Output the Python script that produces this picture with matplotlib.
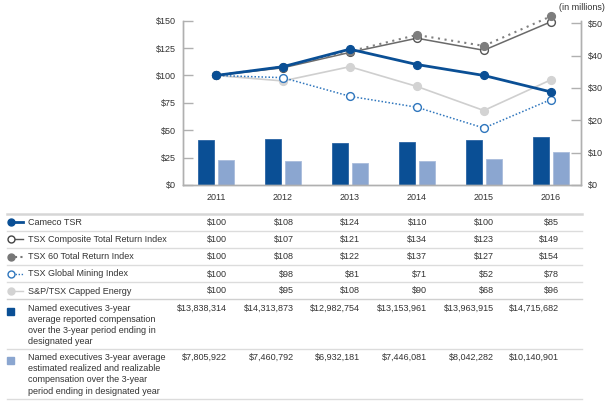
import numpy as np
import matplotlib
matplotlib.use("Agg")
import matplotlib.pyplot as plt
from matplotlib.lines import Line2D
from matplotlib.patches import Rectangle

plt.rcParams['font.family'] = ['Liberation Sans', 'DejaVu Sans']

W, H = 610, 404
years = ['2011', '2012', '2013', '2014', '2015', '2016']
cameco = [100, 108, 124, 110, 100, 85]
tsx_comp = [100, 107, 121, 134, 123, 149]
tsx60 = [100, 108, 122, 137, 127, 154]
mining = [100, 98, 81, 71, 52, 78]
energy = [100, 95, 108, 90, 68, 96]
reported = [13838314, 14313873, 12982754, 13153961, 13963915, 14715682]
realized = [7805922, 7460792, 6932181, 7446081, 8042282, 10140901]

left_ticks = [0, 25, 50, 75, 100, 125, 150]
right_ticks = [0, 10, 20, 30, 40, 50]

txt = '#333333'
dark_blue = '#0a4f95'
light_blue = '#8ba6d0'

def fx(x):
    return x / W

def fy(y):
    return 1 - y / H

fig = plt.figure(figsize=(W / 100, H / 100), dpi=100)
ax = fig.add_axes([fx(183), fy(185), (581 - 183) / W, (185 - 20.7) / H])
ax2 = ax.twinx()

x = np.arange(len(years))

# bars on the right (millions) axis
ax2.bar(x - 0.15, np.array(reported) / 1e6, width=0.24, color=dark_blue,
        edgecolor='#2a64a3', linewidth=0.6, zorder=1)
ax2.bar(x + 0.15, np.array(realized) / 1e6, width=0.24, color=light_blue,
        edgecolor='#a9bcdc', linewidth=0.6, zorder=1)
ax2.set_ylim(0, 50.8)
ax2.set_yticks(right_ticks)
ax2.set_yticklabels(['$%d' % v for v in right_ticks])

# lines on the left axis, drawn above the bars
ax.set_zorder(ax2.get_zorder() + 1)
ax.patch.set_visible(False)
ms = 5.6
ax.plot(x, energy, color='#cfcfcf', lw=1.2, marker='o', ms=ms,
        mfc='#d3d3d3', mec='#d3d3d3', clip_on=False)
ax.plot(x, mining, color='#2f76bd', lw=1.1, ls=(0, (1, 1.3)), marker='o', ms=ms,
        mfc='white', mec='#2f76bd', mew=1.0, clip_on=False)
ax.plot(x, tsx_comp, color='#6a6a6a', lw=1.1, marker='o', ms=ms,
        mfc='white', mec='#555555', mew=1.0, clip_on=False)
ax.plot(x, tsx60, color='#808080', lw=1.5, ls=(0, (1, 2.2)), marker='o', ms=ms,
        mfc='#7d7d7d', mec='#7d7d7d', clip_on=False)
ax.plot(x, cameco, color=dark_blue, lw=2.0, marker='o', ms=ms,
        mfc=dark_blue, mec=dark_blue, clip_on=False)

ax.set_xlim(-0.49, 5.45)
ax.set_ylim(0, 150)
ax.set_yticks(left_ticks)
ax.set_yticklabels(['$%d' % v for v in left_ticks])
ax.set_xticks(x)
ax.set_xticklabels(years)

for a in (ax, ax2):
    a.spines['top'].set_visible(False)
    for s in ('left', 'right', 'bottom'):
        a.spines[s].set_color('#b0b0b0')
        a.spines[s].set_linewidth(1.0)
ax.tick_params(axis='y', direction='in', length=7, width=1, color='#b0b0b0',
               labelsize=6.5, labelcolor=txt, pad=5)
ax2.tick_params(axis='y', direction='in', length=7, width=1, color='#b0b0b0',
                labelsize=6.5, labelcolor=txt, pad=5)
ax.tick_params(axis='x', length=0, labelsize=6.5, labelcolor=txt, pad=6)

fig.text(fx(605), fy(7), '(in millions)', ha='right', va='center',
         fontsize=6.5, color=txt)

# table below the chart
col_right = [227, 294, 360, 427, 494, 559]
rows = [
    ('Cameco TSR', ['$%d' % v for v in cameco], 222),
    ('TSX Composite Total Return Index', ['$%d' % v for v in tsx_comp], 239.3),
    ('TSX 60 Total Return Index', ['$%d' % v for v in tsx60], 256.7),
    ('TSX Global Mining Index', ['$%d' % v for v in mining], 274),
    ('S&P/TSX Capped Energy', ['$%d' % v for v in energy], 291),
    ('Named executives 3-year\naverage reported compensation\nover the 3-year period ending in\ndesignated year',
     ['${:,}'.format(v) for v in reported], 308.3),
    ('Named executives 3-year average\nestimated realized and realizable\ncompensation over the 3-year\nperiod ending in designated year',
     ['${:,}'.format(v) for v in realized], 357.7),
]
for label, vals, y in rows:
    if '\n' in label:
        fig.text(fx(28), fy(y - 4.5), label, ha='left', va='top', fontsize=6.5,
                 color=txt, linespacing=1.3)
    else:
        fig.text(fx(28), fy(y), label, ha='left', va='center', fontsize=6.5, color=txt)
    for xr, v in zip(col_right, vals):
        fig.text(fx(xr), fy(y), v, ha='right', va='center', fontsize=6.5, color=txt)

for y, lw, c in [(214, 1.8, '#d6d6d6'), (230.7, 1, '#dcdcdc'), (247.7, 1, '#dcdcdc'),
                 (265, 1, '#dcdcdc'), (281.7, 1, '#dcdcdc'), (299.3, 1, '#d0d0d0'),
                 (349.3, 1, '#dcdcdc'), (399.3, 1, '#dcdcdc')]:
    fig.add_artist(Line2D([fx(7), fx(582)], [fy(y), fy(y)], color=c, lw=lw))

# legend icons
def icon(y, color, ls, lw, mfc, mec, x0=12):
    fig.add_artist(Line2D([fx(x0), fx(23)], [fy(y), fy(y)], color=color,
                          ls=ls, lw=lw))
    fig.add_artist(Line2D([fx(10.5)], [fy(y)], marker='o', ms=5, mfc=mfc, mec=mec,
                          mew=1.0, ls='none'))

icon(222, dark_blue, '-', 2.0, dark_blue, dark_blue)
icon(239.3, '#555555', '-', 1.0, 'white', '#444444')
icon(256.7, '#777777', (0, (1, 1.6)), 1.5, '#777777', '#777777', x0=15)
icon(274, '#2f76bd', (0, (1, 1.2)), 1.0, 'white', '#2f76bd')
icon(291, '#d0d0d0', '-', 1.0, '#d3d3d3', '#d3d3d3')
fig.add_artist(Rectangle((fx(7), fy(315)), 7 / W, 7 / H, color=dark_blue,
                         transform=fig.transFigure))
fig.add_artist(Rectangle((fx(7), fy(364)), 7 / W, 7 / H, color=light_blue,
                         transform=fig.transFigure))

fig.savefig('out.png', dpi=100)
